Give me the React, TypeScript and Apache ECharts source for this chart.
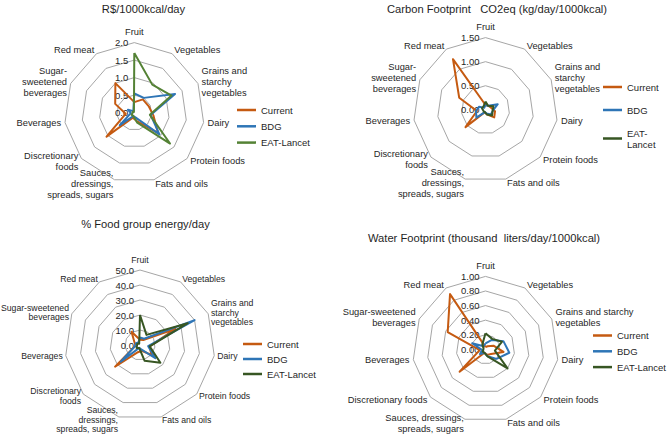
import React, { useEffect, useRef } from 'react';
import * as echarts from 'echarts';

// indicator order, clockwise from the top
const categories = [
  'Fruit', 'Vegetables', 'Grains and starchy vegetables', 'Dairy', 'Protein foods', 'Fats and oils',
  'Sauces, dressings, spreads, sugars', 'Discretionary foods', 'Beverages', 'Sugar-sweetened beverages', 'Red meat',
];

// how the names wrap in each panel
const labelsTop = [
  'Fruit', 'Vegetables', 'Grains and\nstarchy\nvegetables', 'Dairy', 'Protein foods', 'Fats and oils',
  'Sauces,\ndressings,\nspreads, sugars', 'Discretionary\nfoods', 'Beverages', 'Sugar-\nsweetened\nbeverages', 'Red meat',
];
const labelsEnergy = [
  'Fruit', 'Vegetables', 'Grains and\nstarchy\nvegetables', 'Dairy', 'Protein foods', 'Fats and oils',
  'Sauces,\ndressings,\nspreads, sugars', 'Discretionary\nfoods', 'Beverages', 'Sugar-sweetened\nbeverages', 'Red meat',
];
const labelsWater = [
  'Fruit', 'Vegetables', 'Grains and starchy\nvegetables', 'Dairy', 'Protein foods', 'Fats and oils',
  'Sauces, dressings,\nspreads, sugars', 'Discretionary foods', 'Beverages', 'Sugar-sweetened\nbeverages', 'Red meat',
];

const seriesNames = ['Current', 'BDG', 'EAT-Lancet'];

// R$/1000kcal/day
const costCurrent = [0.3, 0.45, 0.45, 0.55, 0.9, 0.25, 0.15, 1.05, 0.25, 0.6, 1.0];
const costBDG = [0.55, 0.5, 1.28, 0.47, 0.95, 0.15, 0.1, 0.55, 0.1, 0.2, 0.05];
const costEAT = [1.7, 0.95, 1.17, 0.45, 1.35, 0.3, 0.1, 0.1, 0.05, 0.05, 0.02];

// Carbon footprint CO2eq (kg/day/1000kcal)
const co2Current = [0.1, 0.1, 0.12, 0.2, 0.24, 0.1, 0.05, 0.55, 0.18, 0.6, 1.25];
const co2BDG = [0.1, 0.1, 0.28, 0.15, 0.15, 0.08, 0.05, 0.25, 0.2, 0.15, 0.05];
const co2EAT = [0.17, 0.1, 0.18, 0.15, 0.18, 0.1, 0.05, 0.05, 0.05, 0.08, 0.08];

// % food group energy/day
const energyCurrent = [3.5, 4, 26, 6.5, 10, 4, 5, 22, 3, 4, 10.5];
const energyBDG = [5, 5, 40, 5.5, 13.5, 3, 2, 17, 3, 3, 2];
const energyEAT = [20, 8, 35, 6.5, 18, 11, 2, 3, 2, 2, 1];

// Water footprint (thousand liters/day/1000kcal)
const waterCurrent = [0.03, 0.05, 0.12, 0.25, 0.1, 0.08, 0.05, 0.47, 0.08, 0.57, 0.9];
const waterBDG = [0.08, 0.15, 0.27, 0.33, 0.2, 0.1, 0.05, 0.1, 0.05, 0.2, 0.05];
const waterEAT = [0.22, 0.17, 0.25, 0.13, 0.4, 0.1, 0.05, 0.05, 0.03, 0.03, 0.08];

const FONT = "'Liberation Sans', Arial, sans-serif";
const TXT = '#1f1f1f';
const ORANGE = '#C55A11';
const BLUE = '#2E75B6';
const GREEN_LIGHT = '#548235';
const GREEN_DARK = '#375623';

// ECharts lays radar axes out counter-clockwise; walk the lists backwards
// after the first one so the chart reads clockwise like the original
const ORDER = categories.map((_, i) => (i === 0 ? 0 : categories.length - i));
const clockwise = <T,>(arr: T[]) => ORDER.map((i) => arr[i]);

const makeRadar = (
  center: number[], radius: number, labels: string[], max: number, split: number, digits: number,
  fontSize = 9.3, lineHeight = 11, nameGap = 4,
) => ({
  center,
  radius,
  startAngle: 90,
  shape: 'polygon',
  splitNumber: split,
  nameGap,
  axisName: { color: TXT, fontSize, lineHeight, fontFamily: FONT },
  axisLine: { show: false },
  axisTick: { show: false },
  axisLabel: { show: false },
  splitLine: { lineStyle: { color: '#a6a6a6', width: 1 } },
  splitArea: { show: false },
  indicator: clockwise(labels).map((name, i) => {
    const ind: any = { name, min: 0, max };
    if (i === 0) {
      // only the vertical axis carries the value labels
      ind.axisLabel = {
        show: true,
        margin: 6,
        color: TXT,
        fontSize: 9.5,
        fontFamily: FONT,
        formatter: (v: number) => Number(v).toFixed(digits),
      };
    }
    return ind;
  }),
});

const makeSeries = (radarIndex: number, values: number[][], green: string) => ({
  type: 'radar',
  radarIndex,
  symbol: 'none',
  data: values.map((v, i) => {
    const color = [ORANGE, BLUE, green][i];
    return {
      name: seriesNames[i],
      value: clockwise(v),
      lineStyle: { color, width: 2 },
      itemStyle: { color },
    };
  }),
});

const makeLegend = (left: number, top: number, gap: number, green: string, wrapEat = false) => ({
  orient: 'vertical',
  left,
  top,
  padding: 0,
  itemGap: gap,
  itemWidth: 19,
  itemHeight: 2.5,
  icon: 'rect',
  selectedMode: false,
  textStyle: { color: TXT, fontSize: 9.5, lineHeight: 11, fontFamily: FONT },
  formatter: (name: string) => (wrapEat && name === 'EAT-Lancet' ? 'EAT-\nLancet' : name),
  data: [
    { name: 'Current', itemStyle: { color: ORANGE } },
    { name: 'BDG', itemStyle: { color: BLUE } },
    { name: 'EAT-Lancet', itemStyle: { color: green } },
  ],
});

const makeTitle = (text: string, x: number, y: number) => ({
  text,
  left: x,
  top: y - 7,
  textAlign: 'center',
  padding: 0,
  textStyle: { color: TXT, fontSize: 11.2, fontWeight: 'normal', fontFamily: FONT },
});

const App: React.FC = () => {
  const chartRef = useRef<HTMLDivElement>(null);

  useEffect(() => {
    if (!chartRef.current) return;
    const chart = echarts.init(chartRef.current, null, { renderer: 'svg' });

    const option = {
      animation: false,
      backgroundColor: '#ffffff',
      textStyle: { fontFamily: FONT },
      title: [
        makeTitle('R$/1000kcal/day', 143.5, 10),
        makeTitle('Carbon Footprint   CO2eq (kg/day/1000kcal)', 497, 10),
        makeTitle('% Food group energy/day', 145.5, 225),
        makeTitle('Water Footprint (thousand  liters/day/1000kcal)', 484, 239.7),
      ],
      legend: [
        makeLegend(237, 104.5, 5.3, GREEN_LIGHT),
        makeLegend(603, 81.5, 12, GREEN_DARK, true),
        makeLegend(243, 338.5, 4, GREEN_DARK),
        makeLegend(593, 330, 4.8, GREEN_DARK),
      ],
      radar: [
        makeRadar([134.3, 112.6], 70, labelsTop, 2.0, 4, 1),
        makeRadar([485.5, 109.8], 72.2, labelsTop, 1.5, 3, 2),
        makeRadar([140, 345], 75, labelsEnergy, 50, 5, 1, 8.7, 9.6, 3),
        makeRadar([485.5, 349.3], 72.9, labelsWater, 1.0, 5, 2),
      ],
      series: [
        makeSeries(0, [costCurrent, costBDG, costEAT], GREEN_LIGHT),
        makeSeries(1, [co2Current, co2BDG, co2EAT], GREEN_DARK),
        makeSeries(2, [energyCurrent, energyBDG, energyEAT], GREEN_DARK),
        makeSeries(3, [waterCurrent, waterBDG, waterEAT], GREEN_DARK),
      ],
    };

    chart.setOption(option as any);

    return () => {
      chart.dispose();
    };
  }, []);

  return (
    <div
      ref={chartRef}
      style={{ position: 'fixed', left: 0, top: 0, width: 669, height: 437, background: '#fff' }}
    />
  );
};

export default App;
